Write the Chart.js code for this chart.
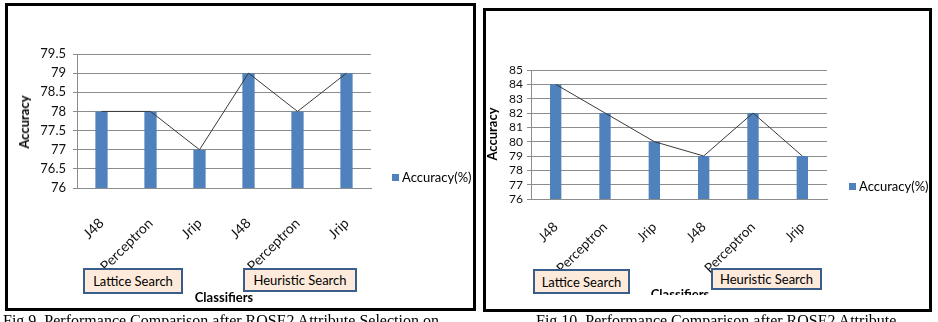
<!DOCTYPE html>
<html>
<head>
<meta charset="utf-8">
<script src="https://cdn.jsdelivr.net/npm/chart.js@4.4.1/dist/chart.umd.min.js"></script>
<style>
    body { margin: 0; width: 938px; height: 322px; position: relative; overflow: hidden; background: #fff; font-family: 'Lato', sans-serif; }
    .frame { position: absolute; border: 3px solid #000; box-sizing: border-box; }
    .chartbox { position: absolute; }
    .ytitle { position: absolute; font-weight: bold; font-size: 13px; color: #000; transform: translate(-50%, -50%) rotate(-90deg); white-space: nowrap; }
    .xtitle { position: absolute; font-weight: bold; font-size: 13px; color: #000; transform: translateX(-50%); white-space: nowrap; overflow: hidden; }
    .legend { position: absolute; font-size: 13px; color: #000; white-space: nowrap; display: flex; align-items: center; }
    .legend i { display: inline-block; width: 7px; height: 7px; background: #4F81BD; margin-right: 3px; }
    .tag { position: absolute; box-sizing: border-box; border: 2px solid #385D8A; background: #FDEADA; font-size: 13px; color: #000; display: flex; align-items: center; justify-content: center; white-space: nowrap; }
    .caption { position: absolute; font-family: 'Liberation Serif', serif; font-size: 16px; line-height: 16px; color: #000; white-space: nowrap; }
</style>
</head>
<body>

<div class="frame" style="left:5px; top:3px; width:471px; height:308px;"></div>
<div class="frame" style="left:483px; top:8px; width:449px; height:304px;"></div>

<div class="chartbox" style="left:8px; top:6px; width:464px; height:300px;"><canvas id="fig9"></canvas></div>
<div class="chartbox" style="left:486px; top:11px; width:443px; height:298px;"><canvas id="fig10"></canvas></div>

<!-- Fig 9 overlays -->
<div class="ytitle" style="left:24px; top:122px;">Accuracy</div>
<div class="xtitle" style="left:224px; top:289px;">Classifiers</div>
<div class="legend" style="left:392px; top:169px;"><i></i>Accuracy(%)</div>
<div class="tag" style="left:83px; top:268px; width:100px; height:26px;">Lattice Search</div>
<div class="tag" style="left:243px; top:268px; width:114px; height:24px;">Heuristic Search</div>

<!-- Fig 10 overlays -->
<div class="ytitle" style="left:492px; top:134px;">Accuracy</div>
<div class="xtitle" style="left:680px; top:286px; height:9px;">Classifiers</div>
<div class="legend" style="left:849px; top:178px;"><i></i>Accuracy(%)</div>
<div class="tag" style="left:533px; top:269px; width:97px; height:25px;">Lattice Search</div>
<div class="tag" style="left:711px; top:268px; width:111px; height:22px;">Heuristic Search</div>

<!-- captions, cut at the bottom edge -->
<div class="caption" style="left:3px; top:313px;">Fig 9. Performance Comparison after ROSE2 Attribute Selection on</div>
<div class="caption" style="left:536px; top:313px;">Fig 10. Performance Comparison after ROSE2 Attribute</div>

<script>
// Data
const classifiers = ['J48', 'Perceptron', 'Jrip', 'J48', 'Perceptron', 'Jrip'];
const accuracyFig9 = [78, 78, 77, 79, 78, 79];
const accuracyFig10 = [84, 82, 80, 79, 82, 79];
const yTicksFig9 = [76, 76.5, 77, 77.5, 78, 78.5, 79, 79.5];
const yTicksFig10 = [76, 77, 78, 79, 80, 81, 82, 83, 84, 85];

const BAR_BLUE = '#4F81BD';
const GRID_GRAY = '#8c8c8c';

function makeChart(id, values, yTicks, opt) {
    return new Chart(document.getElementById(id), {
        type: 'bar',
        data: {
            labels: classifiers,
            datasets: [{
                type: 'line',
                data: values,
                borderColor: '#3a3a3a',
                borderWidth: 1,
                pointRadius: 0,
                tension: 0,
                order: 0
            }, {
                label: 'Accuracy(%)',
                data: values,
                backgroundColor: BAR_BLUE,
                categoryPercentage: 1,
                barPercentage: opt.barPct,
                order: 1
            }]
        },
        options: {
            responsive: true,
            maintainAspectRatio: false,
            animation: false,
            layout: { padding: { left: 0, top: opt.padTop, right: opt.padRight, bottom: 0 } },
            plugins: { legend: { display: false }, tooltip: { enabled: false } },
            scales: {
                x: {
                    grid: { display: false },
                    border: { display: true, color: GRID_GRAY },
                    ticks: {
                        minRotation: 45, maxRotation: 45,
                        autoSkip: false,
                        padding: opt.xPad,
                        color: '#111',
                        font: { family: 'Lato', size: opt.xFont }
                    },
                    afterFit: s => { s.height = opt.xHeight; }
                },
                y: {
                    min: yTicks[0],
                    max: yTicks[yTicks.length - 1],
                    afterBuildTicks: s => { s.ticks = yTicks.map(v => ({ value: v })); },
                    grid: { color: GRID_GRAY, lineWidth: 1, drawTicks: true, tickLength: 4 },
                    border: { display: true, color: GRID_GRAY },
                    ticks: {
                        autoSkip: false,
                        padding: opt.yPad,
                        color: '#111',
                        font: { family: 'Lato', size: opt.yFont },
                        callback: v => String(v)
                    },
                    afterFit: s => { s.width = opt.yWidth; }
                }
            }
        }
    });
}

makeChart('fig9', accuracyFig9, yTicksFig9, {
    barPct: 0.25, padTop: 48, padRight: 101, xHeight: 118, yWidth: 69,
    xPad: 19, yPad: 7, xFont: 14, yFont: 13
});

makeChart('fig10', accuracyFig10, yTicksFig10, {
    barPct: 0.23, padTop: 59, padRight: 102, xHeight: 110, yWidth: 45,
    xPad: 12, yPad: 4, xFont: 13.5, yFont: 12
});
</script>
</body>
</html>
